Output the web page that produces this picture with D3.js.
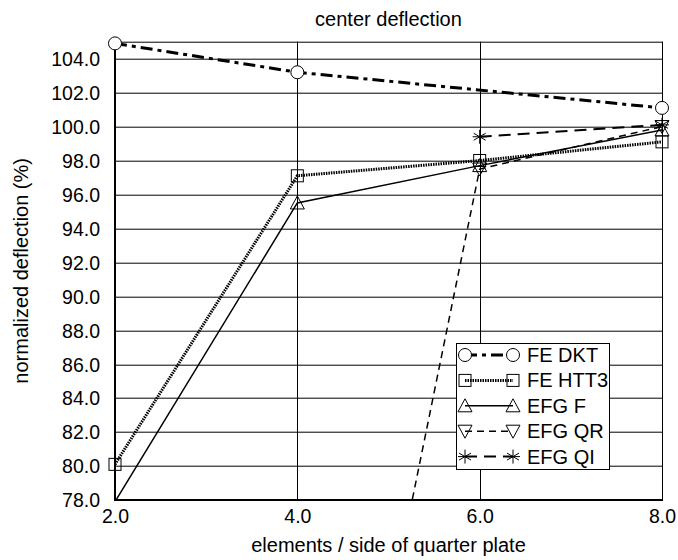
<!DOCTYPE html>
<html>
<head>
<meta charset="utf-8">
<script src="https://cdn.jsdelivr.net/npm/d3@7"></script>
<style>
  body { margin: 0; background: #fff; }
  text { font-family: "Liberation Sans", Arial, sans-serif; fill: #000; }
</style>
</head>
<body>
<div id="chart"></div>
<script>
var svgWidth = 678;
var svgHeight = 560;

var margin = { top: 41.7, right: 16, bottom: 60, left: 115 };
var chartWidth = svgWidth - margin.left - margin.right;
var chartHeight = svgHeight - margin.top - margin.bottom;

// data
var elements = [2, 4, 6, 8];
var feDKT = [104.9, 103.2, null, 101.1];
var feHTT3 = [80.1, 97.1, 98.0, 99.1];
var efgF = [77.9, 95.5, 97.7, 99.8];
var efgQR = [null, 44.8, 97.5, 100.0];
var efgQI = [null, null, 99.4, 100.1];
var yTicks = [78, 80, 82, 84, 86, 88, 90, 92, 94, 96, 98, 100, 102, 104];
var xTicks = [2, 4, 6, 8];

var series = [
  { name: "FE DKT", values: feDKT, width: 3, dash: "12,5,4,5", marker: "circle" },
  { name: "FE HTT3", values: feHTT3, width: 3, dash: "1.5,1", marker: "square" },
  { name: "EFG F", values: efgF, width: 1.5, dash: null, marker: "triUp" },
  { name: "EFG QR", values: efgQR, width: 1.5, dash: "7,5", marker: "triDown" },
  { name: "EFG QI", values: efgQI, width: 2, dash: "12,7", marker: "star" }
];

var svg = d3.select("#chart").append("svg")
  .attr("width", svgWidth)
  .attr("height", svgHeight);

var x = d3.scaleLinear().domain([2, 8]).range([0, chartWidth]);
var y = d3.scaleLinear().domain([78, 105]).range([chartHeight, 0]);

var chartGroup = svg.append("g")
  .attr("transform", `translate(${margin.left}, ${margin.top})`);

svg.append("defs").append("clipPath").attr("id", "plotClip")
  .append("rect").attr("width", chartWidth).attr("height", chartHeight);

// grid
chartGroup.selectAll(".hgrid").data(yTicks).enter().append("line")
  .attr("x1", 0).attr("x2", chartWidth)
  .attr("y1", d => Math.round(y(d)) + 0.5).attr("y2", d => Math.round(y(d)) + 0.5)
  .attr("stroke", "#000").attr("stroke-width", 1);

chartGroup.selectAll(".vgrid").data(xTicks).enter().append("line")
  .attr("y1", 0).attr("y2", chartHeight)
  .attr("x1", d => Math.round(x(d)) + 0.5).attr("x2", d => Math.round(x(d)) + 0.5)
  .attr("stroke", "#000").attr("stroke-width", 1);

chartGroup.append("rect")
  .attr("x", 0.5).attr("y", 0.5)
  .attr("width", chartWidth).attr("height", chartHeight)
  .attr("fill", "none").attr("stroke", "#000");

chartGroup.append("line")
  .attr("x1", 0).attr("x2", 0).attr("y1", 0).attr("y2", chartHeight + 1)
  .attr("stroke", "#000").attr("stroke-width", 2);
chartGroup.append("line")
  .attr("x1", 0).attr("x2", chartWidth).attr("y1", chartHeight).attr("y2", chartHeight)
  .attr("stroke", "#000").attr("stroke-width", 2);

// axes (labels only)
var xAxis = chartGroup.append("g")
  .attr("transform", `translate(0, ${chartHeight})`)
  .call(d3.axisBottom(x).tickValues(xTicks).tickSize(0).tickPadding(0).tickFormat(d3.format(".1f")));
xAxis.select(".domain").remove();
xAxis.selectAll("text").attr("font-size", 19.5).attr("dy", null).attr("y", 23)
  .style("font-family", "Liberation Sans, Arial, sans-serif");

var yAxis = chartGroup.append("g")
  .call(d3.axisLeft(y).tickValues(yTicks).tickSize(0).tickPadding(15).tickFormat(d3.format(".1f")));
yAxis.select(".domain").remove();
yAxis.selectAll("text").attr("font-size", 19.5).attr("dy", "0.35em")
  .style("font-family", "Liberation Sans, Arial, sans-serif");

// titles
svg.append("text").attr("x", margin.left + chartWidth / 2).attr("y", 26)
  .attr("text-anchor", "middle").attr("font-size", 20).text("center deflection");
svg.append("text").attr("x", margin.left + chartWidth / 2).attr("y", 552)
  .attr("text-anchor", "middle").attr("font-size", 20).text("elements / side of quarter plate");
svg.append("text")
  .attr("transform", `translate(28, ${margin.top + chartHeight / 2}) rotate(-90)`)
  .attr("text-anchor", "middle").attr("font-size", 20).text("normalized deflection (%)");

function drawMarker(g, type, cx, cy) {
  var s = g.append("g").attr("transform", `translate(${cx}, ${cy})`)
    .attr("fill", "none").attr("stroke", "#000").attr("stroke-width", 1);
  if (type === "circle") {
    s.append("circle").attr("r", 6.5).attr("fill", "#fff");
  } else if (type === "square") {
    s.append("rect").attr("x", -6).attr("y", -6).attr("width", 12).attr("height", 12);
  } else if (type === "triUp") {
    s.append("path").attr("d", "M0,-7L7,6L-7,6Z");
  } else if (type === "triDown") {
    s.append("path").attr("d", "M0,7L7,-6L-7,-6Z");
  } else if (type === "star") {
    s.append("path").attr("d", "M0,-7L0,7M-6,-3.5L6,3.5M-6,3.5L6,-3.5M-7,0L7,0");
  }
}

var line = d3.line()
  .x(d => x(d[0]))
  .y(d => y(d[1]));

var lines = chartGroup.append("g").attr("clip-path", "url(#plotClip)");
series.forEach(s => {
  var pts = elements.map((e, i) => [e, s.values[i]]).filter(d => d[1] !== null);
  lines.append("path")
    .datum(pts)
    .attr("d", line)
    .attr("fill", "none")
    .attr("stroke", "#000")
    .attr("stroke-width", s.width)
    .attr("stroke-dasharray", s.dash);
});

series.forEach(s => {
  elements.forEach((e, i) => {
    var v = s.values[i];
    if (v === null || v < 78) return;
    drawMarker(chartGroup, s.marker, x(e), y(v));
  });
});

// legend
var legend = svg.append("g").attr("transform", "translate(456, 343)");
legend.append("rect").attr("x", 0.5).attr("y", 0.5).attr("width", 153).attr("height", 126)
  .attr("fill", "#fff").attr("stroke", "#000");
series.forEach((s, i) => {
  var ly = 12 + i * 25.4;
  legend.append("line").attr("x1", 9).attr("x2", 57).attr("y1", ly).attr("y2", ly)
    .attr("stroke", "#000").attr("stroke-width", s.width).attr("stroke-dasharray", s.dash);
  drawMarker(legend, s.marker, 9, ly);
  drawMarker(legend, s.marker, 57, ly);
  legend.append("text").attr("x", 71).attr("y", ly).attr("dy", "0.35em")
    .attr("font-size", 20).text(s.name);
});
</script>
</body>
</html>
